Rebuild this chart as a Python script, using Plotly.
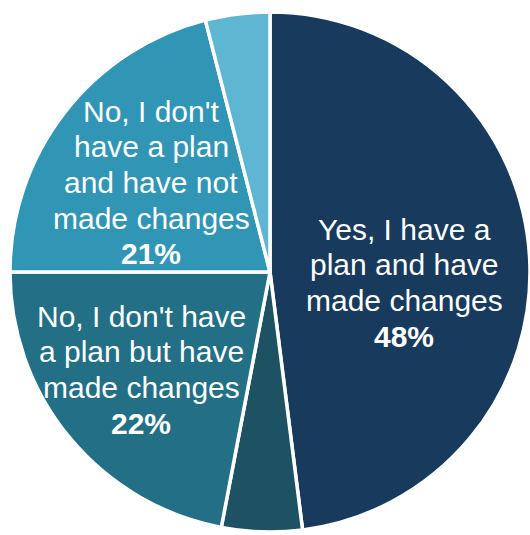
import plotly.graph_objects as go

# Survey responses, clockwise from 12 o'clock
labels = [
    "Yes, I have a plan and have made changes",
    "Yes, I have a plan but have not made changes",
    "No, I don't have a plan but have made changes",
    "No, I don't have a plan and have not made changes",
    "Other / not sure",
]
values = [48, 5, 22, 21, 4]
colors = ["#173A5D", "#1C5261", "#236F86", "#3195B5", "#5EB6D3"]

# Wrapped label text shown inside the three large slices
label_lines = {
    0: ["Yes, I have a", "plan and have", "made changes"],
    2: ["No, I don't have", "a plan but have", "made changes"],
    3: ["No, I don't", "have a plan", "and have not", "made changes"],
}
# Label anchor (centre x, first-line y) in pixels
label_pos = {0: (404, 229), 2: (141, 316), 3: (151, 111)}
LINE_STEP = 35.7

W, H = 530, 535

fig = go.Figure(
    go.Pie(
        labels=labels,
        values=values,
        sort=False,
        direction="clockwise",
        rotation=0,
        marker=dict(colors=colors, line=dict(color="white", width=3.5)),
        textinfo="none",
        hoverinfo="label+percent",
        showlegend=False,
        domain=dict(x=[10 / W, 1.0], y=[(H - 533) / H, (H - 11) / H]),
    )
)

annotations = []
for idx, lines in label_lines.items():
    cx, y0 = label_pos[idx]
    rows = lines + [f"<b>{values[idx]}%</b>"]
    for k, txt in enumerate(rows):
        y = y0 + k * LINE_STEP
        annotations.append(
            dict(
                x=cx / W,
                y=1 - y / H,
                xref="paper",
                yref="paper",
                xanchor="center",
                yanchor="middle",
                text=txt,
                showarrow=False,
                font=dict(family="Liberation Sans, Arial, sans-serif", size=30, color="white"),
            )
        )

fig.update_layout(
    width=W,
    height=H,
    margin=dict(l=0, r=0, t=0, b=0),
    paper_bgcolor="white",
    plot_bgcolor="white",
    annotations=annotations,
)

fig.write_html("out.html")
